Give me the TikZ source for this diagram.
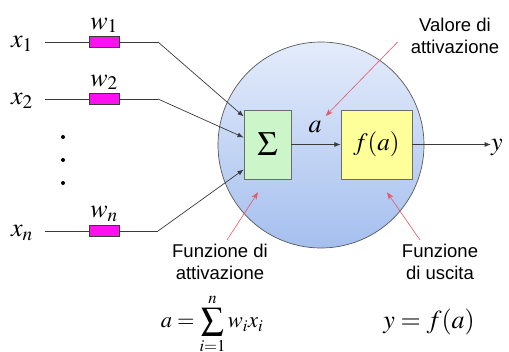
\documentclass[tikz,border=0pt]{standalone}
\usepackage{amsmath}
\usepackage{mathptmx}
\usepackage[no-math]{fontspec}
\setsansfont{Liberation Sans}
\usepackage{tikz}
\usetikzlibrary{arrows.meta, positioning}
\definecolor{neuronTop}{HTML}{E4ECFB}
\definecolor{neuronBot}{HTML}{A5BFEE}
\definecolor{sumFill}{HTML}{CDF5CA}
\definecolor{actFill}{HTML}{FFFF99}
\definecolor{weightFill}{HTML}{FF10F0}
\definecolor{noteRed}{HTML}{E65566}
\definecolor{wireGray}{HTML}{3A3A3A}

\begin{document}
\begin{tikzpicture}[
    x=1pt, y=-1pt,
    wire/.style={draw=wireGray, line width=0.7pt},
    arrow/.style={wire, -{Latex[length=2.2mm, width=1.7mm]}},
    note/.style={draw=noteRed, line width=0.6pt,
                 -{Stealth[length=2.6mm, width=1.9mm]}},
    weight/.style={draw=wireGray, fill=weightFill, line width=0.6pt,
                   minimum width=30pt, minimum height=11pt, inner sep=0pt},
    block/.style={draw=gray!85!black, line width=0.6pt, inner sep=0pt,
                  font=\fontsize{25}{25}\selectfont},
    lbl/.style={inner sep=0pt, font=\fontsize{26}{26}\selectfont},
    txt/.style={font=\sffamily\fontsize{18.5}{22}\selectfont,
                align=center, inner sep=0pt},
    dotpt/.style={circle, fill=black, inner sep=0pt, minimum size=4pt},
]
\useasboundingbox (0,0) rectangle (509,352);

% ── Neuron body ──
\node[circle, draw=gray!70!black, line width=0.7pt, top color=neuronTop,
      bottom color=neuronBot, minimum size=206pt, inner sep=0pt]
    (neuron) at (321,145) {};

\node[block, fill=sumFill, minimum width=47pt, minimum height=69pt,
      font=\fontsize{34}{34}\selectfont]
    (sum) at (267.5,144.5) {$\boldsymbol{\Sigma}$};
\node[block, fill=actFill, minimum width=71pt, minimum height=69pt]
    (fbox) at (376.5,144.5) {$f(a)$};
\node[lbl] (alabel) at (315,127) {$a$};
\node[lbl, anchor=west] (yout) at (491,148) {$y$};

% ── Inputs ──
\node[lbl, anchor=base east] (x1) at (33,48) {$x_1$};
\node[lbl, anchor=base east] (x2) at (33,105) {$x_2$};
\node[lbl, anchor=base east] (xn) at (33,237) {$x_n$};

\node[weight] (w1box) at (104,42) {};
\node[weight] (w2box) at (104,99) {};
\node[weight] (wnbox) at (104,231) {};
\node[lbl, above=3pt of w1box] (w1) {$w_1$};
\node[lbl, above=3pt of w2box] (w2) {$w_2$};
\node[lbl, above=3pt of wnbox] (wn) {$w_n$};

\node[dotpt] (d1) at (63,137) {};
\node[dotpt] (d2) at (63,160) {};
\node[dotpt] (d3) at (63,183) {};

\coordinate (b1) at (158,42);
\coordinate (b2) at (158,99);
\coordinate (bn) at (158,231);

% ── Notes ──
\node[txt] (valnote) at (455,36) {Valore di\\attivazione};
\node[txt] (attnote) at (220,262) {Funzione di\\attivazione};
\node[txt] (uscnote) at (440,262) {Funzione\\di uscita};

\node[lbl, font=\fontsize{22.5}{22.5}\selectfont]
    (eqa) at (212,324) {$\displaystyle a=\sum_{i=1}^{n} w_i x_i$};
\node[lbl] (eqy) at (429,322) {$y=f(a)$};

% ── Arrows ──
\draw[wire] ([xshift=12pt]x1.east |- w1box) -- (w1box) -- (b1);
\draw[wire] ([xshift=12pt]x2.east |- w2box) -- (w2box) -- (b2);
\draw[wire] ([xshift=12pt]xn.east |- wnbox) -- (wnbox) -- (bn);
\draw[arrow] (b1) -- ([yshift=28pt]sum.west);
\draw[arrow] (b2) -- ([yshift=7pt]sum.west);
\draw[arrow] (bn) -- ([yshift=-25pt]sum.west);
\draw[arrow] (sum) -- (fbox);
\draw[arrow] (fbox) -- (yout.west |- fbox);

\draw[note] ([shift={(7,-4)}]attnote.north) -- ([shift={(-9.5,13)}]sum.south);
\draw[note] ([shift={(-20,-4)}]uscnote.north) -- ([shift={(10.5,13)}]fbox.south);
\draw[note] ([shift={(-13,6)}]valnote.west) -- ([shift={(4,-5)}]alabel.north east);
\end{tikzpicture}
\end{document}
